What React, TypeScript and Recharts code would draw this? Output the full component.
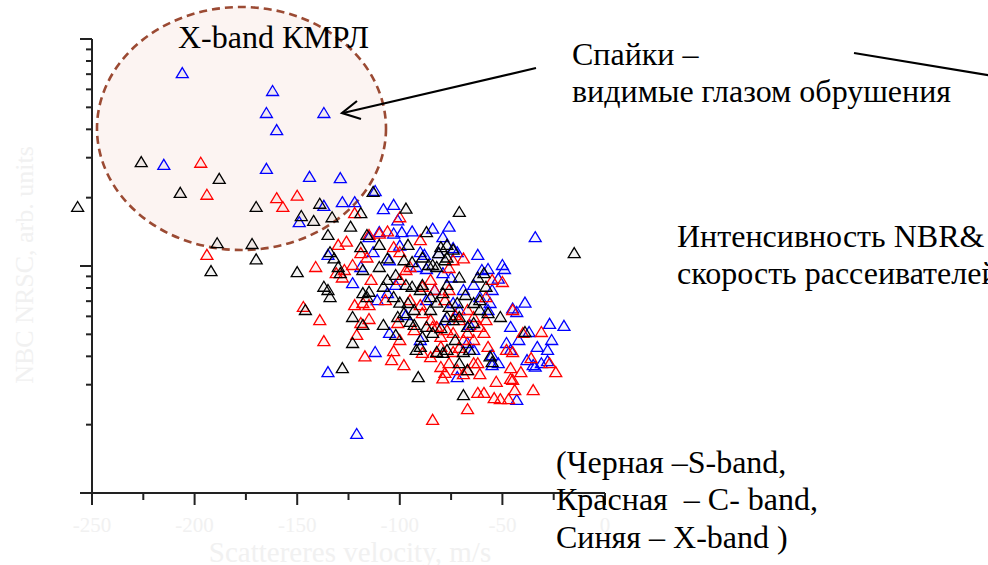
import React from 'react';
import { ScatterChart, Scatter, XAxis, YAxis, ReferenceDot } from 'recharts';

// [velocity m/s, NBC NRSC arb. units]
const sBandPoints: [number, number][] = [
  [-226, 28.7], [-188, 24.2], [-207, 21.0], [-170, 18.2], [-139, 18.8], [-148, 16.6], [-142, 15.8],
  [-189, 12.6], [-172, 12.5], [-170, 10.7], [-192, 9.5], [-150, 9.4], [-113, 21.2], [-133, 16.4],
  [-119, 17.1], [-97, 17.9], [-71, 17.3], [-124, 14.9], [-135, 13.7], [-87, 14.1], [-134, 11.5],
  [-132, 10.8], [-119, 12.1], [-110, 12.4], [-96, 12.4], [-80, 12.1], [-77, 12.4], [-74, 11.8],
  [-130, 9.9], [-129, 9.3], [-118, 9.6], [-110, 9.9], [-106, 10.8], [-94, 10.4], [-89, 10.9],
  [-86, 10.1], [-82, 9.9], [-78, 10.6], [-71, 8.9], [-62, 8.9], [-59, 9.3], [-137, 8.1], [-135, 7.84],
  [-134, 7.3], [-118, 7.6], [-116, 7.3], [-115, 7.7], [-108, 8.1], [-106, 8.68], [-103, 7.3],
  [-100, 6.9], [-96, 6.87], [-94, 8.1], [-90, 7.84], [-89, 8.25], [-85, 7.3], [-82, 6.9], [-79, 7.6],
  [-76, 6.6], [-72, 6.87], [-64, 6.87], [-61, 7.08], [-146, 6.4], [-123, 5.96], [-118, 5.5],
  [-108, 5.5], [-123, 4.58], [-92, 4.27], [-90, 4.4], [-101, 5.96], [-98, 6.2], [-95, 5.67],
  [-87, 5.39], [-84, 5.07], [-80, 5.33], [-77, 5.96], [-74, 5.78], [-71, 5.96], [-82, 4.18],
  [-79, 4.14], [-77, 4.27], [-71, 3.73], [-67, 3.48], [-56, 4.0], [-55, 3.77], [-67, 5.39],
  [-64, 5.61], [-61, 6.4], [-57, 6.2], [-51, 5.96], [-39, 5.12], [-128, 3.55], [-91, 3.24],
  [-69, 2.7], [-15, 11.4], [-116, 13.7], [-98, 10.6], [-81, 11.4], [-77, 10.9], [-84, 10.1],
  [-93, 5.5], [-89, 4.87], [-69, 4.18], [-102, 9.13], [-97, 8.25], [-85, 6.4], [-77, 8.25],
  [-68, 7.45], [-93, 6.4], [-102, 4.97], [-73, 4.72], [-58, 8.1], [-66, 4.27],
];
// point lying left of the plotted range
const sBandOutliers: [number, number][] = [[-257, 18.2]];

const cBandPoints: [number, number][] = [
  [-197, 28.5], [-194, 20.6], [-160, 19.9], [-157, 18.2], [-150, 20.4], [-194, 11.2], [-141, 9.9],
  [-122, 17.1], [-100, 16.4], [-115, 13.7], [-110, 13.9], [-106, 14.2], [-90, 13.0], [-130, 12.4],
  [-126, 12.8], [-119, 11.4], [-116, 10.9], [-103, 12.1], [-100, 11.5], [-131, 9.3], [-128, 8.9],
  [-114, 8.68], [-74, 10.6], [-69, 10.8], [-76, 9.8], [-97, 9.6], [-147, 6.6], [-139, 5.78],
  [-137, 4.67], [-122, 6.73], [-118, 6.87], [-115, 6.73], [-119, 5.61], [-115, 5.84], [-121, 4.97],
  [-117, 4.0], [-103, 4.22], [-104, 3.85], [-98, 3.66], [-101, 5.61], [-89, 6.2], [-85, 5.78],
  [-82, 5.39], [-77, 5.22], [-74, 5.07], [-67, 5.07], [-64, 4.72], [-61, 5.39], [-58, 5.78],
  [-55, 8.68], [-50, 8.5], [-45, 6.4], [-58, 7.3], [-67, 6.4], [-64, 5.96], [-48, 4.27], [-45, 4.18],
  [-31, 5.12], [-36, 3.93], [-27, 3.73], [-24, 3.41], [-41, 3.41], [-46, 3.55], [-53, 3.09],
  [-46, 3.18], [-62, 2.76], [-59, 2.76], [-54, 2.62], [-51, 2.59], [-47, 2.59], [-44, 2.84],
  [-35, 2.84], [-67, 2.34], [-84, 2.1], [-80, 3.59], [-78, 3.38], [-76, 3.73], [-72, 3.48],
  [-67, 3.48], [-64, 3.73], [-61, 3.34], [-89, 4.14], [-85, 3.97], [-74, 4.18], [-71, 4.36],
  [-84, 5.39], [-80, 4.87], [-127, 9.6], [-123, 10.1], [-95, 9.9], [-100, 8.68], [-89, 8.1],
  [-83, 7.84], [-79, 3.2], [-69, 3.34], [-62, 3.73], [-45, 3.15], [-40, 5.07], [-57, 4.4],
  [-69, 4.72], [-59, 5.07], [-80, 4.4], [-82, 4.14], [-95, 7.08], [-90, 6.73], [-78, 7.08],
  [-73, 6.08], [-85, 8.68], [-93, 5.22], [-100, 4.72], [-107, 7.08], [-76, 7.84], [-71, 5.78],
];

const xBandPoints: [number, number][] = [
  [-206, 70.8], [-162, 59.0], [-165, 47.2], [-137, 47.2], [-160, 39.7], [-215, 27.9], [-165, 26.8],
  [-144, 24.7], [-129, 24.4], [-112, 21.4], [-128, 19.1], [-122, 19.1], [-137, 18.4], [-149, 15.6],
  [-108, 17.8], [-103, 18.6], [-101, 15.9], [-103, 13.9], [-99, 14.1], [-94, 14.2], [-84, 14.6],
  [-76, 14.9], [-79, 13.4], [-135, 11.2], [-113, 11.5], [-74, 12.0], [-62, 11.2], [-34, 13.4],
  [-60, 9.6], [-57, 9.7], [-50, 10.1], [-49, 9.7], [-39, 6.9], [-45, 6.5], [-43, 6.27], [-20, 5.45],
  [-27, 5.56], [-46, 5.39], [-26, 4.72], [-28, 4.27], [-37, 5.12], [-33, 4.4], [-38, 3.85],
  [-35, 3.66], [-31, 3.73], [-28, 3.81], [-48, 4.58], [-46, 4.27], [-55, 4.05], [-52, 3.73],
  [-43, 2.57], [-135, 3.41], [-112, 4.18], [-105, 5.07], [-72, 3.24], [-111, 7.08], [-106, 7.6],
  [-90, 11.5], [-88, 11.2], [-69, 7.84], [-64, 8.25], [-61, 7.3], [-56, 6.87], [-57, 6.4],
  [-74, 6.87], [-71, 6.4], [-87, 7.08], [-79, 9.3], [-75, 8.9], [-90, 4.72], [-67, 4.58], [-64, 4.27],
  [-121, 1.82], [-110, 14.1], [-123, 8.4], [-119, 9.9], [-105, 10.6], [-92, 9.9], [-87, 9.7],
  [-100, 12.3], [-81, 11.4], [-115, 13.4], [-52, 8.8], [-55, 7.84], [-72, 11.5], [-42, 4.72],
  [-55, 3.66], [-34, 3.6], [-78, 5.78], [-97, 6.08], [-83, 7.84], [-66, 5.5], [-102, 8.25],
];

const xTicks = [-250, -225, -200, -175, -150, -125, -100, -75, -50, -25, 0];
const xMajorStep = 50;
const yTicks = [1, 2, 3, 4, 5, 6, 7, 8, 9, 10, 20, 30, 40, 50, 60, 70, 80, 90, 100];
const yMajor = [1, 10, 100];

const COLORS = { s: '#000000', c: '#ff0000', x: '#0000ff' };
const FONT = '"Liberation Serif", "DejaVu Serif", serif';
const LIGHT = '#f1f1f1';

const toRows = (pts: [number, number][]) => pts.map(([v, a]) => ({ v, a }));

const makeTri = (color: string) => (props: any) => {
  const { cx, cy } = props;
  if (cx == null || cy == null) return <g />;
  return (
    <path
      d={`M${cx},${cy - 5.5} L${cx + 6},${cy + 4.5} L${cx - 6},${cy + 4.5} Z`}
      fill={color}
      fillOpacity={0.05}
      stroke={color}
      strokeWidth={1.3}
      strokeLinejoin="miter"
    />
  );
};

const XTick = (props: any) => {
  const { x, y, payload } = props;
  const v = payload.value;
  const major = v % xMajorStep === 0;
  return (
    <g>
      <line x1={x} y1={y} x2={x} y2={y + (major ? 12 : 7)} stroke="#222" strokeWidth={2} />
      {major && (
        <text x={x} y={y + 39} textAnchor="middle" fontFamily={FONT} fontSize={21} fill={LIGHT}>
          {String(v)}
        </text>
      )}
    </g>
  );
};

const YTick = (props: any) => {
  const { x, y, payload } = props;
  const major = yMajor.includes(payload.value);
  return <line x1={x} y1={y} x2={x - (major ? 12 : 6)} y2={y} stroke="#222" strokeWidth={2} />;
};

const T = (p: { x: number; y: number; children: React.ReactNode }) => (
  <text x={p.x} y={p.y} fontFamily={FONT} fontSize={32} fill="#000" style={{ whiteSpace: 'pre' }}>
    {p.children}
  </text>
);

export default function App() {
  const W = 988;
  const H = 565;
  return (
    <div style={{ position: 'absolute', left: 0, top: 0, width: W, height: H, background: '#fff', overflow: 'hidden' }}>
      <svg width={W} height={H} style={{ position: 'absolute', left: 0, top: 0 }}>
        <ellipse cx={241.5} cy={128.5} rx={144.5} ry={121.5} fill="#fcf4f2" stroke="#9b4a33" strokeWidth={2.6} strokeDasharray="8 5" />
      </svg>
      <div style={{ position: 'absolute', left: 0, top: 0 }}>
        <ScatterChart width={W} height={H} margin={{ top: 39, right: 383, bottom: 42, left: 32 }}>
          <XAxis
            type="number"
            dataKey="v"
            domain={[-250, 0]}
            ticks={xTicks}
            interval={0}
            tickSize={0}
            tickMargin={0}
            tickLine={false}
            tick={<XTick />}
            axisLine={{ stroke: '#222', strokeWidth: 2 }}
            height={30}
          />
          <YAxis
            type="number"
            dataKey="a"
            scale="log"
            domain={[1, 100]}
            ticks={yTicks}
            interval={0}
            tickSize={0}
            tickMargin={0}
            tickLine={false}
            tick={<YTick />}
            axisLine={{ stroke: '#222', strokeWidth: 2 }}
            width={60}
          />
          <Scatter name="X-band" data={toRows(xBandPoints)} shape={makeTri(COLORS.x)} isAnimationActive={false} />
          <Scatter name="C-band" data={toRows(cBandPoints)} shape={makeTri(COLORS.c)} isAnimationActive={false} />
          <Scatter name="S-band" data={toRows(sBandPoints)} shape={makeTri(COLORS.s)} isAnimationActive={false} />
          {sBandOutliers.map(([v, a], i) => (
            <ReferenceDot key={i} x={v} y={a} ifOverflow="visible" shape={makeTri(COLORS.s)} />
          ))}
        </ScatterChart>
      </div>
      <svg width={W} height={H} style={{ position: 'absolute', left: 0, top: 0, pointerEvents: 'none' }}>
        <T x={178} y={48}>X-band КМРЛ</T>
        <T x={572} y={65}>Спайки –</T>
        <T x={572} y={102}>видимые глазом обрушения</T>
        <T x={677} y={247}>Интенсивность NBR&amp;</T>
        <T x={677} y={284}>скорость рассеивателей</T>
        <T x={556} y={473}>(Черная –S-band,</T>
        <T x={556} y={510}>Красная  – С- band,</T>
        <T x={556} y={548}>Синяя – X-band )</T>
        <text x={350} y={562} fontFamily={FONT} fontSize={29} fill={LIGHT} textAnchor="middle">Scattereres velocity, m/s</text>
        <text x={33} y={265} fontFamily={FONT} fontSize={26} fill={LIGHT} textAnchor="middle" transform="rotate(-90 33 265)">NBC NRSC, arb. units</text>
        <line x1={536} y1={68} x2={343} y2={113} stroke="#000" strokeWidth={2.2} />
        <polyline points="357,101 342,113 361,119" fill="none" stroke="#000" strokeWidth={2.2} />
        <line x1={854} y1={53} x2={1000} y2={77} stroke="#000" strokeWidth={2.2} />
      </svg>
    </div>
  );
}
